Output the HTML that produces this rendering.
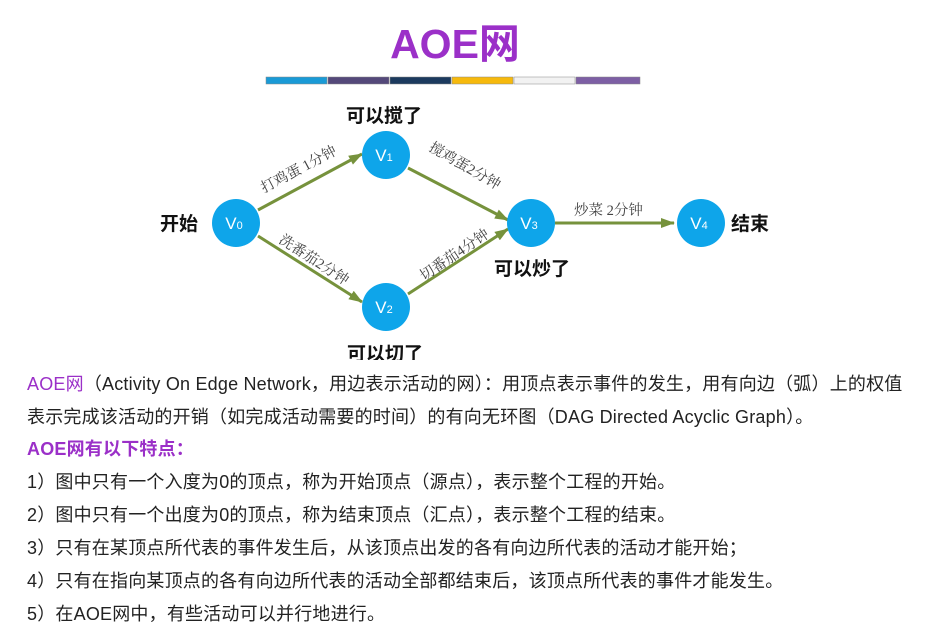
<!DOCTYPE html>
<html><head><meta charset="utf-8"><style>
body{margin:0;width:950px;height:632px;background:#fff;overflow:hidden;position:relative;font-family:"Liberation Sans","Noto Sans CJK SC",sans-serif;}
.t{position:absolute;left:27px;font-size:18px;color:#222;white-space:nowrap;letter-spacing:0.2px}
.p{color:#9b30c8;}
</style></head><body>
<svg width="950" height="360" style="position:absolute;left:0;top:0">
<defs><marker id="a" markerWidth="14" markerHeight="10" refX="13" refY="5" orient="auto" markerUnits="userSpaceOnUse"><path d="M0,0 L14,5 L0,10 z" fill="#76923c"/></marker></defs>
<text x="455" y="58" text-anchor="middle" font-family="Liberation Sans,Noto Sans CJK SC,sans-serif" font-weight="bold" font-size="41" fill="#9b30c8">AOE网</text>
<g stroke="#888" stroke-width="0.5">
<rect x="266" y="77" width="61" height="7" fill="#1a9ad6"/>
<rect x="328" y="77" width="61" height="7" fill="#54497a"/>
<rect x="390" y="77" width="61" height="7" fill="#1c3a5e"/>
<rect x="452" y="77" width="61" height="7" fill="#f6b90d"/>
<rect x="514" y="77" width="61" height="7" fill="#f2f2f2"/>
<rect x="576" y="77" width="64" height="7" fill="#7d5fa4"/>
</g>
<g stroke="#76923c" stroke-width="3" marker-end="url(#a)">
<line x1="258" y1="210" x2="362" y2="154"/>
<line x1="408" y1="168" x2="508" y2="220"/>
<line x1="258" y1="236" x2="362" y2="302"/>
<line x1="408" y1="294" x2="508" y2="229"/>
<line x1="555" y1="223" x2="674" y2="223"/>
</g>
<g fill="#0ea5ea">
<circle cx="236" cy="223" r="24"/><circle cx="386" cy="155" r="24"/><circle cx="386" cy="307" r="24"/><circle cx="531" cy="223" r="24"/><circle cx="701" cy="223" r="24"/>
</g>
<g fill="#fff" font-size="17" font-family="Liberation Sans,sans-serif" text-anchor="middle">
<text x="234" y="229">V<tspan font-size="11">0</tspan></text>
<text x="384" y="161">V<tspan font-size="11">1</tspan></text>
<text x="384" y="313">V<tspan font-size="11">2</tspan></text>
<text x="529" y="229">V<tspan font-size="11">3</tspan></text>
<text x="699" y="229">V<tspan font-size="11">4</tspan></text>
</g>
<g font-weight="bold" font-size="19" fill="#111" font-family="Liberation Sans,Noto Sans CJK SC,sans-serif">
<text x="160" y="230">开始</text>
<text x="731" y="230">结束</text>
<text x="346" y="122">可以搅了</text>
<text x="494" y="275">可以炒了</text>
<text x="347" y="360">可以切了</text>
</g>
<g font-size="14.5" fill="#444" font-family="Liberation Serif,Noto Serif CJK SC,serif">
<text transform="translate(264,193) rotate(-28)">打鸡蛋 1分钟</text>
<text transform="translate(428,150) rotate(30)">搅鸡蛋2分钟</text>
<text transform="translate(278,242) rotate(33)">洗番茄2分钟</text>
<text transform="translate(424,281) rotate(-34)">切番茄4分钟</text>
<text x="574" y="215">炒菜 2分钟</text>
</g>
</svg>
<div class="t" style="top:370px"><span class="p">AOE网</span>（Activity On Edge Network，用边表示活动的网）：用顶点表示事件的发生，用有向边（弧）上的权值</div>
<div class="t" style="top:403px">表示完成该活动的开销（如完成活动需要的时间）的有向无环图（DAG Directed Acyclic Graph）。</div>
<div class="t p" style="top:435px;font-weight:bold">AOE网有以下特点：</div>
<div class="t" style="top:468px">1）图中只有一个入度为0的顶点，称为开始顶点（源点），表示整个工程的开始。</div>
<div class="t" style="top:501px">2）图中只有一个出度为0的顶点，称为结束顶点（汇点），表示整个工程的结束。</div>
<div class="t" style="top:534px">3）只有在某顶点所代表的事件发生后，从该顶点出发的各有向边所代表的活动才能开始；</div>
<div class="t" style="top:567px">4）只有在指向某顶点的各有向边所代表的活动全部都结束后，该顶点所代表的事件才能发生。</div>
<div class="t" style="top:600px">5）在AOE网中，有些活动可以并行地进行。</div>
</body></html>
